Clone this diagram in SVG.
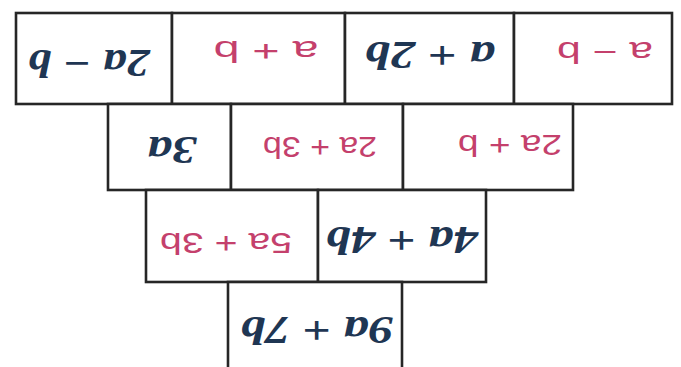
<svg xmlns="http://www.w3.org/2000/svg" width="681" height="367" viewBox="0 0 681 367">
<style>
.cell{fill:#ffffff;stroke:#262626;stroke-width:2.6}
.b{font-family:"Liberation Serif","DejaVu Serif",serif;font-weight:bold;font-style:italic;font-size:40px;fill:#1f3653;text-anchor:middle}
.p{font-family:"Liberation Sans","DejaVu Sans",sans-serif;font-size:30px;fill:#c4406c;text-anchor:middle}
</style>
<rect width="681" height="367" fill="#ffffff"/>
<g id="connectors"></g>
<g id="n-2a-b"><rect class="cell" x="16" y="13" width="156" height="91"/><text class="b" transform="translate(89,63) rotate(180)" y="13" textLength="122" lengthAdjust="spacingAndGlyphs">2a − b</text></g>
<g id="n-a+b"><rect class="cell" x="172" y="13" width="173" height="91"/><text class="p" transform="translate(266,52) rotate(180)" y="11" textLength="105" lengthAdjust="spacingAndGlyphs">a + b</text></g>
<g id="n-a+2b"><rect class="cell" x="345" y="13" width="169" height="91"/><text class="b" transform="translate(430,55) rotate(180)" y="13" textLength="130" lengthAdjust="spacingAndGlyphs">a + 2b</text></g>
<g id="n-a-b"><rect class="cell" x="514" y="13" width="158" height="91"/><text class="p" transform="translate(605,53) rotate(180)" y="11" textLength="96" lengthAdjust="spacingAndGlyphs">a − b</text></g>
<g id="n-3a"><rect class="cell" x="108" y="104" width="123" height="86"/><text class="b" transform="translate(172,150) rotate(180)" y="13" textLength="49" lengthAdjust="spacingAndGlyphs">3a</text></g>
<g id="n-2a+3b"><rect class="cell" x="231" y="104" width="172" height="86"/><text class="p" transform="translate(320,148) rotate(180)" y="11" textLength="114" lengthAdjust="spacingAndGlyphs">2a + 3b</text></g>
<g id="n-2a+b"><rect class="cell" x="403" y="104" width="170" height="86"/><text class="p" transform="translate(510,146) rotate(180)" y="11" textLength="104" lengthAdjust="spacingAndGlyphs">2a + b</text></g>
<g id="n-5a+3b"><rect class="cell" x="146" y="190" width="172" height="92"/><text class="p" transform="translate(226,244) rotate(180)" y="11" textLength="132" lengthAdjust="spacingAndGlyphs">5a + 3b</text></g>
<g id="n-4a+4b"><rect class="cell" x="318" y="190" width="168" height="92"/><text class="b" transform="translate(402,240) rotate(180)" y="13" textLength="152" lengthAdjust="spacingAndGlyphs">4a + 4b</text></g>
<g id="n-9a+7b"><rect class="cell" x="228" y="282" width="174" height="92"/><text class="b" transform="translate(317,330) rotate(180)" y="13" textLength="153" lengthAdjust="spacingAndGlyphs">9a + 7b</text></g>
</svg>
